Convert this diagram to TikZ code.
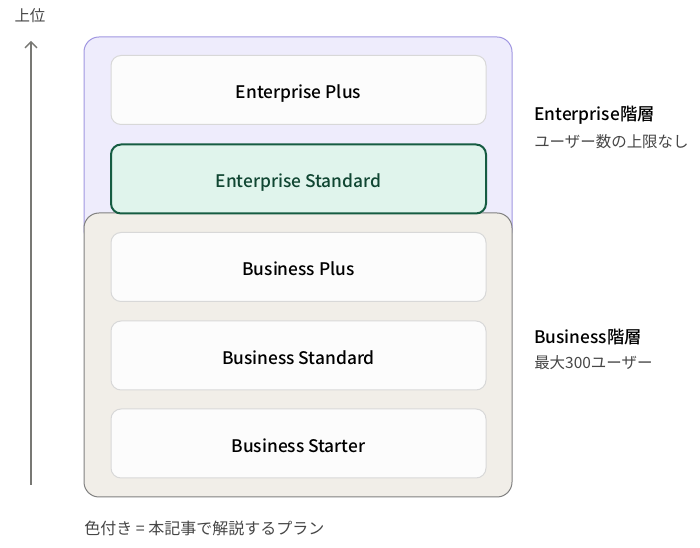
\documentclass[tikz,border=0pt]{standalone}
\usepackage{fontspec}
\setmainfont{Noto Sans CJK JP}[BoldFont={Noto Sans CJK JP Medium}]
\usepackage{tikz}
\usetikzlibrary{arrows.meta}

\definecolor{entfill}{RGB}{238,236,252}
\definecolor{entline}{RGB}{160,150,225}
\definecolor{busfill}{RGB}{241,238,232}
\definecolor{busline}{RGB}{128,128,128}
\definecolor{planfill}{RGB}{252,252,252}
\definecolor{planline}{RGB}{216,216,216}
\definecolor{selfill}{RGB}{224,244,236}
\definecolor{selline}{RGB}{22,92,66}
\definecolor{seltext}{RGB}{16,70,50}
\definecolor{axisgray}{RGB}{120,120,116}
\definecolor{notegray}{RGB}{70,70,70}

\begin{document}
\begin{tikzpicture}[x=0.75pt,y=0.75pt,yscale=-1,
  tier/.style={rounded corners=11.25pt,line width=0.75pt},
  plan/.style={draw=planline,fill=planfill,rounded corners=7.5pt,line width=0.75pt,
    minimum width=281.25pt,minimum height=51.75pt,inner sep=0pt,
    text height=15pt,text depth=1.5pt,
    font=\fontsize{13}{15}\selectfont\bfseries},
  selplan/.style={plan,draw=selline,fill=selfill,line width=1.5pt,text=seltext},
  tiername/.style={anchor=west,inner sep=0pt,font=\fontsize{13}{15}\selectfont\bfseries},
  tiernote/.style={anchor=west,inner sep=0pt,text=notegray,font=\fontsize{11.6}{13}\selectfont}]
\useasboundingbox (0,0) rectangle (700,548);

%Enterprise tier
\draw [tier,draw=entline,fill=entfill] (84,37) rectangle (512,245);
%Business tier
\draw [tier,draw=busline,fill=busfill] (84,213) rectangle (512,497);

%Plans
\node [plan] (entplus) at (298.5,90) {Enterprise Plus};
\node [selplan] (entstd) at (298.5,179) {Enterprise Standard};
\node [plan] (busplus) at (298.5,267) {Business Plus};
\node [plan] (busstd) at (298.5,355.5) {Business Standard};
\node [plan] (busstart) at (298.5,443.5) {Business Starter};

%Axis arrow
\coordinate (axisbot) at (31,485);
\coordinate (axistop) at (31,41);
\draw [axisgray,line width=1pt,-{Straight Barb[length=4.5pt,width=9pt]}] (axisbot) -- (axistop);
% Text Node
\node [inner sep=0pt,text=notegray,font=\fontsize{11.6}{13}\selectfont] (uplabel) at (30,16) {上位};

% Text Node
\node [tiername] (entname) at (534,115) {Enterprise階層};
% Text Node
\node [tiernote] (entnote) at (534,142) {ユーザー数の上限なし};
% Text Node
\node [tiername] (busname) at (534,337) {Business階層};
% Text Node
\node [tiernote] (busnote) at (534,363) {最大300ユーザー};

% Text Node
\node [tiernote,font=\fontsize{12}{14}\selectfont] (legend) at (84,528) {色付き = 本記事で解説するプラン};

\end{tikzpicture}
\end{document}
